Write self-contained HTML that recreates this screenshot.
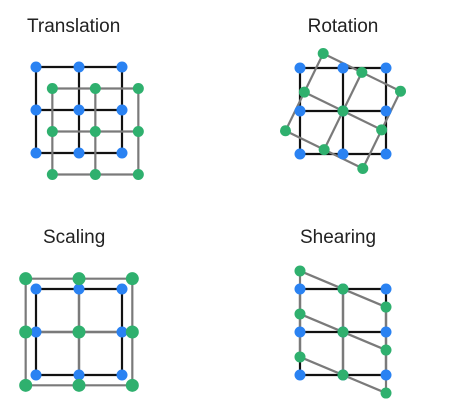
<!DOCTYPE html>
<html><head><meta charset="utf-8">
<style>
html,body{margin:0;padding:0;background:#fff;}
svg{display:block;}
text{font-family:"Liberation Sans",sans-serif;font-size:19px;fill:#222;}
</style></head>
<body>
<svg id="s" width="451" height="413" viewBox="0 0 451 413">
<text x="27" y="32">Translation</text>
<text x="343" y="32" text-anchor="middle">Rotation</text>
<text x="43" y="243">Scaling</text>
<text x="300" y="243">Shearing</text>
</svg>
<script>
// grid coordinates (unit cells)
const gridIdx = [-1, 0, 1];
// panel centers and unit size
const panelNames = ['translation', 'rotation', 'scaling', 'shearing'];
const panelCx = [79, 343, 79, 343];
const panelCy = [110, 111, 332, 332];
const unit = 43;
// transform parameters
const translateX = [0.38, 0, 0, 0];
const translateY = [0.5, 0, 0, 0];
const rotateDeg = [0, 26, 0, 0];
const scaleXY = [1, 1, 1.24, 1];
const shearY = [0, 0, 0, 0.42];
const greenR = [5.5, 5.5, 6.5, 5.5];

const NS = 'http://www.w3.org/2000/svg';
const svg = document.getElementById('s');
function mk(tag, attrs){const e=document.createElementNS(NS,tag);for(const k in attrs)e.setAttribute(k,attrs[k]);return e;}

panelNames.forEach((nm, p) => {
  const cx = panelCx[p], cy = panelCy[p];
  const orig = (i,j) => [cx + i*unit, cy + j*unit];
  const tf = (i,j) => {
    let x=i, y=j;
    y = y + shearY[p]*x;
    x *= scaleXY[p]; y *= scaleXY[p];
    const a = rotateDeg[p]*Math.PI/180;
    const xr = x*Math.cos(a) - y*Math.sin(a), yr = x*Math.sin(a) + y*Math.cos(a);
    return [cx + (xr+translateX[p])*unit, cy + (yr+translateY[p])*unit];
  };
  const g = mk('g',{});
  
  
  svg.appendChild(g);
  const drawLines = (f, color, name) => {
    gridIdx.forEach(k => {
      const a=f(-1,k), b=f(1,k), c=f(k,-1), d=f(k,1);
      const l1 = mk('line',{x1:a[0],y1:a[1],x2:b[0],y2:b[1],stroke:color,'stroke-width':2.2});
      
      
      const l2 = mk('line',{x1:c[0],y1:c[1],x2:d[0],y2:d[1],stroke:color,'stroke-width':2.2});
      
      
      g.appendChild(l1); g.appendChild(l2);
    });
  };
  const drawDots = (f, color, r, name) => {
    gridIdx.forEach(i => gridIdx.forEach(j => {
      const q=f(i,j);
      const c = mk('circle',{cx:q[0],cy:q[1],r:r,fill:color});
      
      
      g.appendChild(c);
    }));
  };
  drawLines(orig, '#111', 'original');
  drawLines(tf, '#7a7a7a', 'transformed');
  drawDots(orig, '#2a82f2', 5.5, 'original');
  drawDots(tf, '#2fb06e', greenR[p], 'transformed');
});
</script>
</body></html>
